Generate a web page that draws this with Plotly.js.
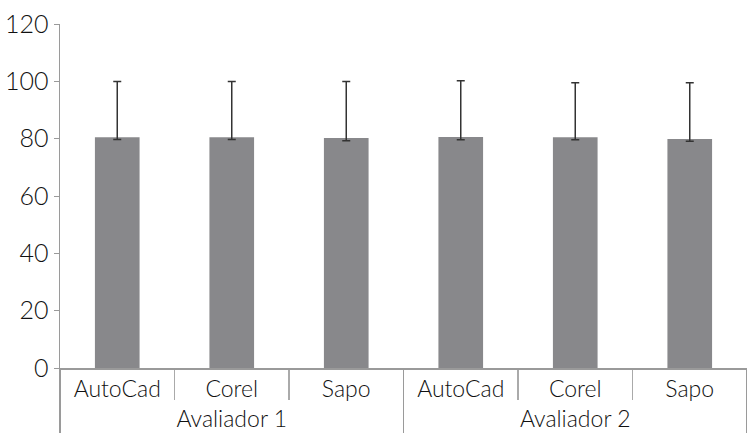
<!DOCTYPE html>
<html>
<head>
<meta charset="utf-8">
<script src="https://cdn.plot.ly/plotly-3.0.1.min.js"></script>
<style>html,body{margin:0;padding:0;background:#fff;}#chart{width:747px;height:433px;}</style>
</head>
<body>
<div id="chart"></div>
<script>
const groups = ["Avaliador 1", "Avaliador 1", "Avaliador 1", "Avaliador 2", "Avaliador 2", "Avaliador 2"];
const software = ["AutoCad", "Corel", "Sapo", "AutoCad", "Corel", "Sapo"];
const means = [80.5, 80.5, 80.2, 80.6, 80.5, 79.9];
const errUp = [19.4, 19.4, 19.7, 19.6, 19.0, 19.6];
const errDown = [0.8, 0.8, 0.9, 1.0, 0.9, 0.8];
const yTicks = [0, 20, 40, 60, 80, 100, 120];

const trace = {
  type: "bar",
  x: [groups, software],
  y: means,
  marker: {color: "#88888b"},
  error_y: {type: "data", symmetric: false, array: errUp, arrayminus: errDown,
            color: "#333333", thickness: 1.5, width: 4},
  hoverinfo: "none"
};

const layout = {
  width: 747, height: 433,
  margin: {l: 60, r: 0, t: 24, b: 65},
  paper_bgcolor: "#ffffff", plot_bgcolor: "#ffffff",
  font: {family: "Lato, 'Open Sans', sans-serif", size: 23, color: "#111111", weight: 300},
  bargap: 0.61,
  showlegend: false,
  xaxis: {
    type: "multicategory",
    showline: true, linecolor: "#9a9a9a", linewidth: 1.5,
    ticks: "outside", ticklen: 30, tickcolor: "#aaaaaa", tickwidth: 1.2,
    showdividers: true, dividercolor: "#9a9a9a", dividerwidth: 1.5,
    showgrid: false, zeroline: false,
    tickfont: {size: 23, color: "#111111", weight: 300}
  },
  yaxis: {
    range: [0, 120], tickvals: yTicks, ticktext: yTicks.map(String),
    showline: true, linecolor: "#9a9a9a", linewidth: 1.5,
    ticks: "outside", ticklen: 5, tickcolor: "#9a9a9a",
    showgrid: false, zeroline: false,
    tickfont: {size: 25, color: "#111111", weight: 300}
  }
};

Plotly.newPlot("chart", [trace], layout, {displayModeBar: false, staticPlot: true});
</script>
</body>
</html>
